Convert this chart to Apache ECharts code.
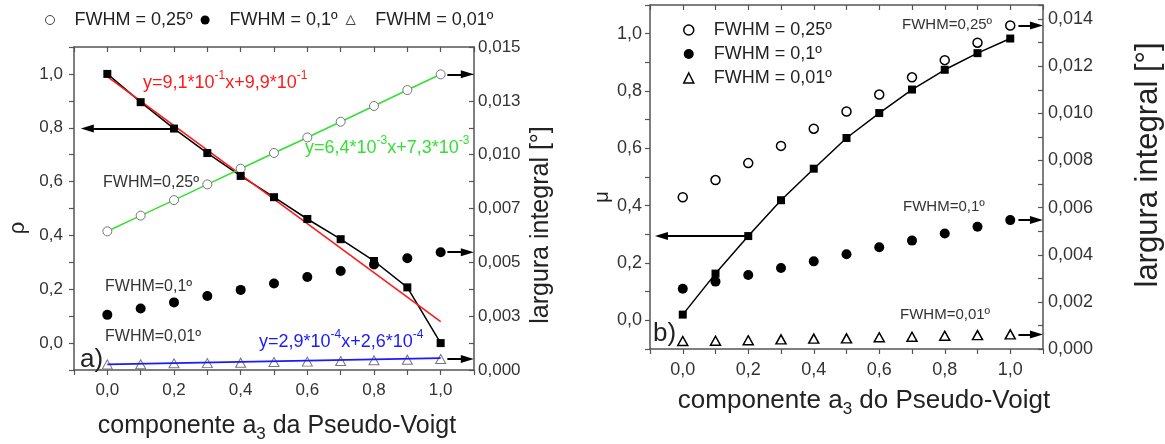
<!DOCTYPE html>
<html><head><meta charset="utf-8">
<script src="https://cdn.jsdelivr.net/npm/echarts@6/dist/echarts.min.js"></script>
<style>html,body{margin:0;padding:0;background:#fff}#c{width:1165px;height:444px}</style>
</head><body><div id="c"></div>
<script>
// ---------- data ----------
const xValues = [0, 0.1, 0.2, 0.3, 0.4, 0.5, 0.6, 0.7, 0.8, 0.9, 1.0];
const rhoSquares = [1.0, 0.895, 0.797, 0.706, 0.621, 0.542, 0.461, 0.386, 0.305, 0.207, 0.0];
const muSquares = [0.02, 0.163, 0.294, 0.419, 0.529, 0.636, 0.723, 0.805, 0.874, 0.932, 0.983];
const width025 = [0.00644, 0.00717, 0.00789, 0.00862, 0.00935, 0.01008, 0.0108, 0.01153, 0.01226, 0.013, 0.01373];
const width010 = [0.00256, 0.00286, 0.00314, 0.00344, 0.00372, 0.00402, 0.00432, 0.0046, 0.0049, 0.00519, 0.00547];
const width001A = [0.00026, 0.00027, 0.00031, 0.00032, 0.00034, 0.00037, 0.00039, 0.00042, 0.00045, 0.00048, 0.00051];
const width001B = [0.00034, 0.00035, 0.00037, 0.00041, 0.00044, 0.00045, 0.0005, 0.00052, 0.00056, 0.00059, 0.00062];
const rhoFit = [[0, 0.99], [1, 0.08]];
const width001Fit = [[0, 0.00026], [1, 0.00055]];
const widthTicksA = ['0,000', '0,003', '0,005', '0,007', '0,010', '0,013', '0,015'];
const seriesNames = ['FWHM = 0,25º', 'FWHM = 0,1º', 'FWHM = 0,01º'];

// ---------- helpers ----------
const FONT = 'Liberation Sans, Arial, sans-serif';
const pairs = (xs, ys) => xs.map((x, i) => [x, ys[i]]);
const fmtTenth = v => { const k = Math.round(v * 10); if (k < 0 || k % 2 !== 0) return ''; return (k / 10).toFixed(1).replace('.', ','); };
const axisLine = { show: true, onZero: false, lineStyle: { color: '#555', width: 1.5 } };
const tickStyle = { color: '#555', width: 1.2 };

function xAxes(grid, size) {
  return [
    { type: 'value', gridIndex: grid, position: 'bottom', min: -0.1, max: 1.1, interval: 0.1,
      axisLine, splitLine: { show: false },
      axisTick: { show: true, inside: false, length: 5, lineStyle: tickStyle },
      axisLabel: { formatter: fmtTenth, fontSize: size, color: '#333', fontFamily: FONT, margin: 12 } },
    { type: 'value', gridIndex: grid, position: 'top', min: -0.1, max: 1.1, interval: 0.1,
      axisLine, splitLine: { show: false },
      axisTick: { show: true, inside: true, length: 5, lineStyle: tickStyle },
      axisLabel: { show: false } }
  ];
}

const option = {
  animation: false,
  backgroundColor: '#fff',
  grid: [
    { left: 74, top: 47, width: 400, height: 323 },
    { left: 650, top: 5, width: 393, height: 344 }
  ],
  xAxis: [...xAxes(0, 17), ...xAxes(1, 18)],
  yAxis: [
    { type: 'value', gridIndex: 0, position: 'left', min: -0.1, max: 1.1, interval: 0.1,
      axisLine, splitLine: { show: false },
      axisTick: { show: true, length: 5, lineStyle: tickStyle },
      axisLabel: { formatter: fmtTenth, fontSize: 17, color: '#333', fontFamily: FONT, margin: 11 } },
    { type: 'value', gridIndex: 0, position: 'right', min: 0, max: 0.015, interval: 0.00125,
      axisLine, splitLine: { show: false },
      axisTick: { show: true, inside: true, length: 5, lineStyle: tickStyle },
      axisLabel: { fontSize: 17, color: '#333', fontFamily: FONT, margin: 4,
        formatter: v => { const k = Math.round(v / 0.00125); return k % 2 ? '' : (widthTicksA[k / 2] || ''); } } },
    { type: 'value', gridIndex: 1, position: 'left', min: -0.1, max: 1.1, interval: 0.1,
      axisLine, splitLine: { show: false },
      axisTick: { show: true, length: 5, lineStyle: tickStyle },
      axisLabel: { formatter: fmtTenth, fontSize: 18, color: '#333', fontFamily: FONT, margin: 8 } },
    { type: 'value', gridIndex: 1, position: 'right', min: 0, max: 0.0146, interval: 0.001,
      axisLine, splitLine: { show: false },
      axisTick: { show: true, inside: true, length: 5, lineStyle: tickStyle },
      axisLabel: { fontSize: 18, color: '#333', fontFamily: FONT, margin: 5,
        formatter: v => { const k = Math.round(v / 0.001); if (Math.abs(v - k * 0.001) > 1e-7 || k % 2) return ''; return (k / 1000).toFixed(3).replace('.', ','); } } }
  ],
  legend: [
    { left: 40, top: 6, orient: 'horizontal', itemWidth: 9, itemHeight: 9, itemGap: 8, selectedMode: false,
      textStyle: { fontSize: 18, color: '#222', fontFamily: FONT, padding: [0, 0, 0, 15] },
      data: [
        { name: seriesNames[0], icon: 'circle', itemStyle: { color: '#fff', borderColor: '#444', borderWidth: 1, opacity: 1 } },
        { name: seriesNames[1], icon: 'circle', itemStyle: { color: '#000', borderWidth: 0, opacity: 1 } },
        { name: seriesNames[2], icon: 'triangle', itemStyle: { color: '#fff', borderColor: '#444', borderWidth: 1, opacity: 1 } }
      ] },
    { left: 678, top: 16, orient: 'vertical', itemWidth: 10, itemHeight: 10, itemGap: 6, selectedMode: false,
      textStyle: { fontSize: 18, color: '#222', fontFamily: FONT, padding: [0, 0, 0, 15], lineHeight: 18 },
      data: [
        { name: seriesNames[0], icon: 'circle', itemStyle: { color: '#fff', borderColor: '#000', borderWidth: 1.5, opacity: 1 } },
        { name: seriesNames[1], icon: 'circle', itemStyle: { color: '#000', borderWidth: 0, opacity: 1 } },
        { name: seriesNames[2], icon: 'triangle', itemStyle: { color: '#fff', borderColor: '#000', borderWidth: 1.5, opacity: 1 } }
      ] }
  ],
  series: []
};

const arrowML = (segs) => ({
  silent: true, symbol: ['none', 'triangle'], symbolSize: [8, 13], label: { show: false },
  lineStyle: { color: '#000', width: 2, type: 'solid', opacity: 1 }, emphasis: { disabled: true },
  data: segs.map(s => [{ coord: s[0] }, { coord: s[1] }])
});

// ----- left panel -----
option.series.push(
  { type: 'line', xAxisIndex: 0, yAxisIndex: 0, data: pairs(xValues, rhoSquares), symbol: 'none',
    lineStyle: { color: '#000', width: 1.5 }, z: 3 },
  { type: 'line', xAxisIndex: 0, yAxisIndex: 0, data: rhoFit, symbol: 'none',
    lineStyle: { color: '#ff1a1a', width: 1.6 }, z: 4 },
  { type: 'line', name: seriesNames[0], xAxisIndex: 0, yAxisIndex: 1, data: pairs(xValues, width025),
    symbol: 'circle', symbolSize: 9, itemStyle: { color: '#fff', borderColor: '#777', borderWidth: 1 },
    lineStyle: { color: '#33e033', width: 1.6 }, z: 4,
    markLine: arrowML([[[1.02, width025[10]], [1.08, width025[10]]]]) },
  { type: 'scatter', name: seriesNames[1], xAxisIndex: 0, yAxisIndex: 1, data: pairs(xValues, width010),
    symbol: 'circle', symbolSize: 10, itemStyle: { color: '#000', opacity: 1 }, z: 5,
    markLine: arrowML([[[1.02, width010[10]], [1.08, width010[10]]]]) },
  { type: 'scatter', name: seriesNames[2], xAxisIndex: 0, yAxisIndex: 1, data: pairs(xValues, width001A),
    symbol: 'triangle', symbolSize: [10, 9], itemStyle: { color: '#fff', borderColor: '#777', borderWidth: 1, opacity: 1 }, z: 4,
    markLine: arrowML([[[1.02, width001A[10]], [1.08, width001A[10]]]]) },
  { type: 'line', xAxisIndex: 0, yAxisIndex: 1, data: width001Fit, symbol: 'none',
    lineStyle: { color: '#1a1aff', width: 1.6 }, z: 5 },
  { type: 'scatter', xAxisIndex: 0, yAxisIndex: 0, data: pairs(xValues, rhoSquares),
    symbol: 'rect', symbolSize: 8, itemStyle: { color: '#000', opacity: 1 }, z: 6,
    markLine: arrowML([[[xValues[2], rhoSquares[2]], [-0.06, rhoSquares[2]]]]) }
);

// ----- right panel -----
option.series.push(
  { type: 'line', xAxisIndex: 2, yAxisIndex: 2, data: pairs(xValues, muSquares), symbol: 'rect', symbolSize: 8,
    itemStyle: { color: '#000' }, lineStyle: { color: '#000', width: 1.5 }, z: 6,
    markLine: arrowML([[[xValues[2], muSquares[2]], [-0.065, muSquares[2]]]]) },
  { type: 'scatter', name: seriesNames[0], xAxisIndex: 2, yAxisIndex: 3, data: pairs(xValues, width025),
    symbol: 'circle', symbolSize: 9, itemStyle: { color: '#fff', borderColor: '#000', borderWidth: 1.5, opacity: 1 }, z: 4,
    markLine: arrowML([[[1.025, width025[10]], [1.08, width025[10]]]]) },
  { type: 'scatter', name: seriesNames[1], xAxisIndex: 2, yAxisIndex: 3, data: pairs(xValues, width010),
    symbol: 'circle', symbolSize: 10, itemStyle: { color: '#000', opacity: 1 }, z: 4,
    markLine: arrowML([[[1.025, width010[10]], [1.08, width010[10]]]]) },
  { type: 'scatter', name: seriesNames[2], xAxisIndex: 2, yAxisIndex: 3, data: pairs(xValues, width001B),
    symbol: 'triangle', symbolSize: [10, 9], itemStyle: { color: '#fff', borderColor: '#000', borderWidth: 1.5, opacity: 1 }, z: 4,
    markLine: arrowML([[[1.025, width001B[10]], [1.08, width001B[10]]]]) }
);

// ----- text annotations -----
const T = (x, y, text, opts = {}) => ({
  type: 'text', x, y, rotation: opts.rot || 0, z: 100,
  style: Object.assign({ text, fill: opts.color || '#333', fontSize: opts.size || 16, fontFamily: FONT,
    align: opts.align || 'left', verticalAlign: 'middle' }, opts.rich ? { rich: opts.rich } : {})
});
const supRich = (color) => ({ s: { fontSize: 12, fill: color, fontFamily: FONT, verticalAlign: 'top', lineHeight: 26 } });
const subRich = { b: { fontSize: 17, fill: '#222', fontFamily: FONT, verticalAlign: 'bottom', lineHeight: 34 } };

option.graphic = [
  T(143, 83, 'y=9,1*10{s|-1}x+9,9*10{s|-1}', { color: '#ff1a1a', size: 18, rich: supRich('#ff1a1a') }),
  T(305, 148, 'y=6,4*10{s|-3}x+7,3*10{s|-3}', { color: '#33e033', size: 18, rich: supRich('#33e033') }),
  T(259, 342, 'y=2,9*10{s|-4}x+2,6*10{s|-4}', { color: '#1a1aff', size: 18, rich: supRich('#1a1aff') }),
  T(103, 183, 'FWHM=0,25º', { size: 16 }),
  T(105, 287, 'FWHM=0,1º', { size: 16 }),
  T(105, 337, 'FWHM=0,01º', { size: 16 }),
  T(80, 360, 'a)', { size: 26, color: '#222' }),
  T(18, 228, 'ρ', { size: 22, color: '#222', rot: Math.PI / 2, align: 'center' }),
  T(541, 225, 'largura integral [°]', { size: 25, color: '#222', rot: Math.PI / 2, align: 'center' }),
  T(277, 426, 'componente a{b|3} da Pseudo-Voigt', { size: 25, color: '#222', align: 'center', rich: subRich }),
  T(902, 25, 'FWHM=0,25º', { size: 15 }),
  T(903, 207, 'FWHM=0,1º', { size: 15 }),
  T(900, 315, 'FWHM=0,01º', { size: 15 }),
  T(653, 334, 'b)', { size: 26, color: '#222' }),
  T(602, 197, 'μ', { size: 20, color: '#222', rot: Math.PI / 2, align: 'center' }),
  T(1148, 165, 'largura integral [°]', { size: 31, color: '#222', rot: Math.PI / 2, align: 'center' }),
  T(864, 401, 'componente a{b|3} do Pseudo-Voigt', { size: 26, color: '#222', align: 'center', rich: subRich })
];

const chart = echarts.init(document.getElementById('c'), null, { renderer: 'canvas' });
chart.setOption(option);
</script>
</body></html>
